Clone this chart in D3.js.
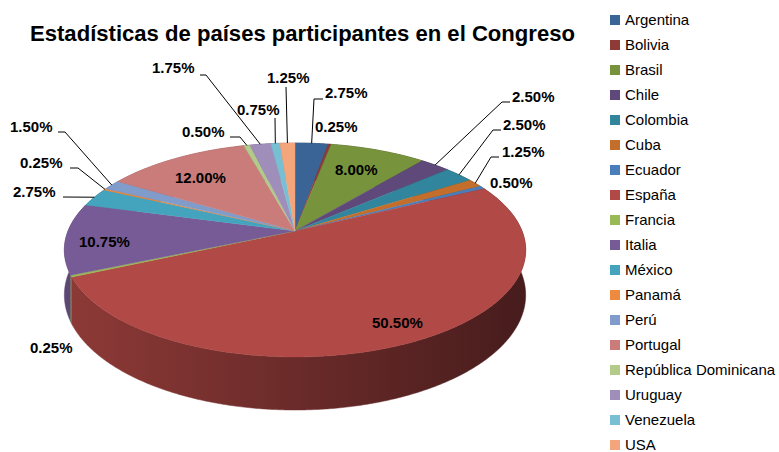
<!DOCTYPE html>
<html>
<head>
<meta charset="utf-8">
<script src="https://cdn.jsdelivr.net/npm/d3@7"></script>
<style>
  body { margin: 0; background: #fff; }
  svg { display: block; font-family: "Liberation Sans", Arial, sans-serif; }
</style>
</head>
<body>
<svg id="chart" width="779" height="452"></svg>
<script>
// data
var countries = ["Argentina", "Bolivia", "Brasil", "Chile", "Colombia", "Cuba", "Ecuador", "España",
  "Francia", "Italia", "México", "Panamá", "Perú", "Portugal", "República Dominicana", "Uruguay", "Venezuela", "USA"];
var values = [2.75, 0.25, 8.00, 2.50, 2.50, 1.25, 0.50, 50.50, 0.25, 10.75, 2.75, 0.25, 1.50, 12.00, 0.50, 1.75, 0.75, 1.25];
var colors = ["#3a6495", "#8e3a37", "#77933c", "#5f497a", "#31859c", "#c36f2b", "#4a7ebb", "#b14a47", "#98b954",
  "#775b96", "#44a4be", "#ee8a3f", "#7f9cca", "#c97c7a", "#b3cb8a", "#a08eba", "#78bfd3", "#f4a57c"];
var title = "Estadísticas de países participantes en el Congreso";

// label placement (text start x, baseline y, leader bend points)
var labelLayout = [
  {x: 325, y: 98, line: [[314, 99], [323, 99]]},
  {x: 315, y: 132},
  {x: 335, y: 175, inside: true},
  {x: 512, y: 102, line: [[502, 102], [510, 102]]},
  {x: 503, y: 130, line: [[493, 130], [501, 130]]},
  {x: 502, y: 157, line: [[491, 157], [499, 157]]},
  {x: 490, y: 188},
  {x: 372, y: 328, inside: true},
  {x: 30, y: 353},
  {x: 79, y: 247, inside: true},
  {x: 13, y: 197, line: [[63, 197]]},
  {x: 20, y: 168, line: [[78, 168], [70, 168]]},
  {x: 10, y: 132, line: [[65, 132], [58, 132]]},
  {x: 175, y: 183, inside: true},
  {x: 182, y: 137, line: [[240, 137], [230, 137]]},
  {x: 152, y: 73, line: [[206, 75], [200, 75]]},
  {x: 237, y: 115, line: [[275, 118]]},
  {x: 267, y: 83, line: [[286, 87]]}
];

var svg = d3.select("#chart");

// pie geometry with a bit of perspective
var cx = 295, cy = 231, A = 227, B = 103.6, K = 0.1776, depth = 43.6;
function proj(theta, r, drop) {
  var u = r * Math.sin(theta), v = -r * Math.cos(theta);
  var s = 1 / (1 - K * v);
  return [cx + A * u * s, cy + B * v * s + (drop ? depth * s : 0)];
}
function arcPts(a0, a1, drop) {
  var n = Math.max(2, Math.ceil((a1 - a0) / 0.008));
  var pts = [];
  for (var i = 0; i <= n; i++) pts.push(proj(a0 + (a1 - a0) * i / n, 1, drop));
  return pts;
}
var line = d3.line();

var data = countries.map(function(c, i) { return {name: c, value: values[i], color: colors[i], i: i}; });
var arcs = d3.pie().sort(null).value(function(d) { return d.value; })(data);

// side gradients
var defs = svg.append("defs");
arcs.forEach(function(a) {
  var c = d3.rgb(a.data.color);
  var g = defs.append("linearGradient").attr("id", "side" + a.index)
    .attr("gradientUnits", "userSpaceOnUse").attr("x1", 63).attr("x2", 525).attr("y1", 0).attr("y2", 0);
  g.append("stop").attr("offset", 0).attr("stop-color", d3.rgb(c.r * 0.8, c.g * 0.78, c.b * 0.78));
  g.append("stop").attr("offset", 1).attr("stop-color", d3.rgb(c.r * 0.4, c.g * 0.38, c.b * 0.4));
});

// side walls, back to front
var sides = arcs.slice().sort(function(a, b) {
  return -Math.cos((a.startAngle + a.endAngle) / 2) - -Math.cos((b.startAngle + b.endAngle) / 2);
});
svg.append("g").selectAll("path").data(sides).enter().append("path")
  .attr("d", function(a) {
    var top = arcPts(a.startAngle, a.endAngle, false);
    var bot = arcPts(a.startAngle, a.endAngle, true).reverse();
    return line(top.concat(bot)) + "Z";
  })
  .attr("fill", function(a) { return "url(#side" + a.index + ")"; })
  .attr("stroke", function(a) { return "url(#side" + a.index + ")"; })
  .attr("stroke-width", 0.5);

// top faces
svg.append("g").selectAll("path").data(arcs).enter().append("path")
  .attr("d", function(a) {
    return line([[cx, cy]].concat(arcPts(a.startAngle, a.endAngle, false))) + "Z";
  })
  .attr("fill", function(a) { return a.data.color; })
  .attr("stroke", function(a) { return a.data.color; })
  .attr("stroke-width", 0.4);

// leader lines
svg.append("g").selectAll("path").data(arcs.filter(function(a) { return labelLayout[a.index].line; }))
  .enter().append("path")
  .attr("d", function(a) {
    var start = proj((a.startAngle + a.endAngle) / 2, 1, false);
    return line([start].concat(labelLayout[a.index].line));
  })
  .attr("fill", "none").attr("stroke", "#000").attr("stroke-width", 1);

// data labels
svg.append("g").selectAll("text").data(arcs).enter().append("text")
  .attr("x", function(a) { return labelLayout[a.index].x; })
  .attr("y", function(a) { return labelLayout[a.index].y; })
  .attr("font-size", 15).attr("font-weight", "bold").attr("fill", "#000")
  .text(function(a) { return a.data.value.toFixed(2) + "%"; });

// title
svg.append("text").attr("x", 30).attr("y", 41)
  .attr("font-size", 22).attr("font-weight", "bold")
  .attr("textLength", 545).attr("lengthAdjust", "spacingAndGlyphs")
  .text(title);

// legend
var legend = svg.append("g").selectAll("g").data(data).enter().append("g")
  .attr("transform", function(d, i) { return "translate(610," + (20 + i * 25) + ")"; });
legend.append("rect").attr("x", 0).attr("y", -5).attr("width", 10).attr("height", 10)
  .attr("fill", function(d) { return d.color; });
legend.append("text").attr("x", 15).attr("y", 5)
  .attr("font-size", 15).attr("fill", "#000")
  .text(function(d) { return d.name; });
</script>
</body>
</html>
